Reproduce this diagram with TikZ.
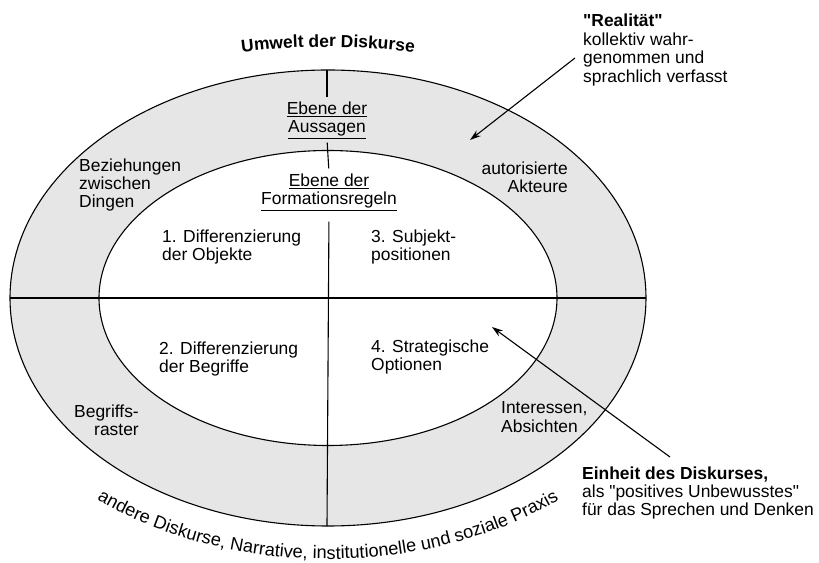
\documentclass[tikz,border=0pt]{standalone}
\usepackage{fontspec}
\setmainfont{Liberation Sans}
\usetikzlibrary{arrows.meta,decorations.text}
\definecolor{ringgray}{RGB}{230,230,230}
\newcommand{\lblfont}{\fontsize{17.5}{18.5}\selectfont}
\newcommand{\arcfont}{\fontsize{18.2}{19}\selectfont}

\begin{document}
\begin{tikzpicture}[x=1bp,y=1bp,
  lbl/.style={font=\lblfont,inner sep=1bp},
  lvl/.style={lbl,align=center},
  rim/.style={line width=1.1bp},
  pointer/.style={-{Stealth[length=11bp,width=7bp]},line width=1.1bp}]
\useasboundingbox (-328,-265) rectangle (491,298);
%
\fill[ringgray] (0,0) ellipse [x radius=318,y radius=228];
\fill[white] (0,0) ellipse [x radius=229,y radius=147.5];
\draw[rim] (0,0) ellipse [x radius=318,y radius=228];
\draw[rim] (0,0) ellipse [x radius=229,y radius=147.5];
%
\coordinate (oleft) at (-318,0);
\coordinate (oright) at (318,0);
\coordinate (otop) at (-1,228);
\coordinate (obottom) at (-1,-228);
%
\node[lvl] (aussagen) at (-1,178) {\underline{Ebene der}\\\underline{Aussagen}};
\node[lvl] (formation) at (1,106) {\underline{Ebene der}\\\underline{Formationsregeln}};
%
\draw[rim] (oleft) -- (oright);
\draw[rim,shorten >=3bp] (otop) -- (aussagen.north);
\draw[rim,shorten <=3bp,shorten >=4bp] (aussagen.south) -- (formation.north);
\draw[rim,shorten <=10bp] (formation.south) -- (obottom);
%
\node[lbl,align=left,anchor=west] (beziehungen) at (-250,113) {Beziehungen\\zwischen\\Dingen};
\node[lbl,align=right,anchor=east] (akteure) at (241,121) {autorisierte\\Akteure};
\node[lbl,align=left,anchor=west] (objekte) at (-167,51) {1. Differenzierung\\der Objekte};
\node[lbl,align=left,anchor=west] (subjekt) at (42,51) {3. Subjekt-\\positionen};
\node[lbl,align=left,anchor=west] (begriffe) at (-170,-61) {2. Differenzierung\\der Begriffe};
\node[lbl,align=left,anchor=west] (optionen) at (42,-59) {4. Strategische\\Optionen};
\node[lbl,align=right,anchor=east] (raster) at (-188,-122) {Begriffs-\\raster};
\node[lbl,align=left,anchor=west] (absichten) at (172,-119) {Interessen,\\Absichten};
%
\node[lbl,align=left,anchor=west] (realitaet) at (254,248) {\textbf{\textquotedbl Realität\textquotedbl}\\kollektiv wahr-\\genommen und\\sprachlich verfasst};
\node[lbl,align=left,anchor=west] (einheit) at (253,-195) {\textbf{Einheit des Diskurses,}\\als \textquotedbl positives Unbewusstes\textquotedbl\\für das Sprechen und Denken};
%
\coordinate (realtail) at (247,240);
\coordinate (realtip) at (142,158);
\coordinate (einheittail) at (342,-159);
\coordinate (einheittip) at (164,-29);
\draw[pointer] (realtail) -- (realtip);
\draw[pointer] (einheittail) -- (einheittip);
%
\path[decorate,decoration={text along path,text format delimiters={|}{|},
  text={|\lblfont\bfseries|Umwelt der Diskurse},text align=center}]
  (120:420 and 251) arc[start angle=120,end angle=60,x radius=420,y radius=251];
\path[decorate,decoration={text along path,text format delimiters={|}{|},
  text={|\arcfont|andere Diskurse, Narrative, institutionelle und soziale Praxis},text align=center}]
  (200:364 and 261) arc[start angle=200,end angle=340,x radius=364,y radius=261];
\end{tikzpicture}
\end{document}
